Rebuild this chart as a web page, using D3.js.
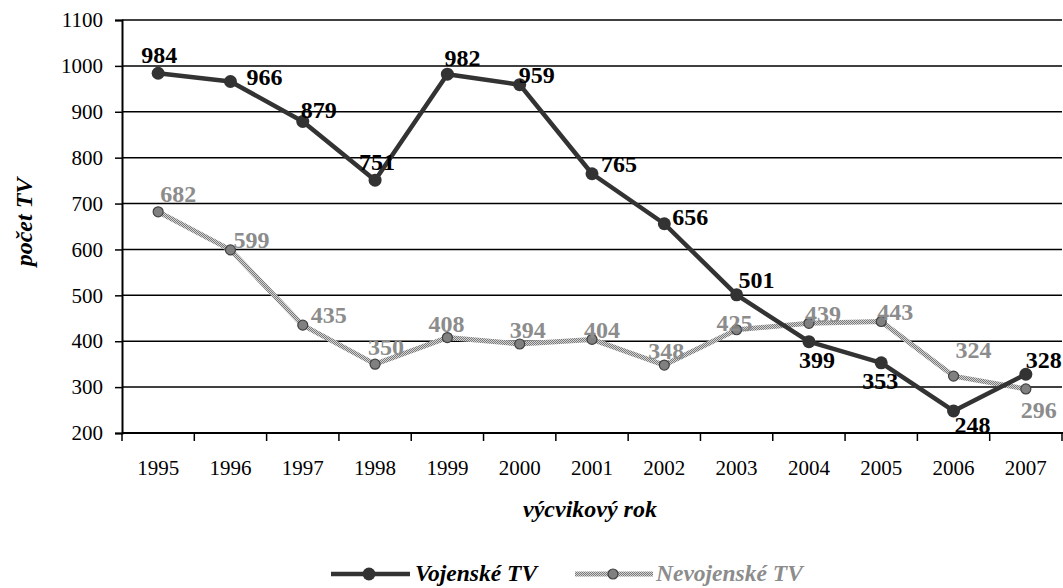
<!DOCTYPE html>
<html>
<head>
<meta charset="utf-8">
<script src="https://cdn.jsdelivr.net/npm/d3@7"></script>
<style>
  html, body { margin: 0; padding: 0; background: #fff; }
  svg { display: block; font-family: "Liberation Serif", "Times New Roman", serif; }
</style>
</head>
<body>
<svg id="chart" width="1063" height="588"></svg>
<script>
// ---- data ----
const years = ["1995","1996","1997","1998","1999","2000","2001","2002","2003","2004","2005","2006","2007"];
const vojenske = [984, 966, 879, 751, 982, 959, 765, 656, 501, 399, 353, 248, 328];
const nevojenske = [682, 599, 435, 350, 408, 394, 404, 348, 425, 439, 443, 324, 296];
const yTicks = [200, 300, 400, 500, 600, 700, 800, 900, 1000, 1100];
const seriesNames = ["Vojenské TV", "Nevojenské TV"];
const yTitle = "počet TV";
const xTitle = "výcvikový rok";

// label placement offsets (layout only)
const vojOffsets = [[-17,-10],[16,4],[-2,-3],[-16,-10],[-3,-8],[-1,-2],[9,-2],[8,1],[2,-7],[-10,26],[-19,26],[1,22],[0,-6]];
const nevOffsets = [[2,-10],[3,-2],[8,-2],[-7,-9],[-19,-6],[-10,-6],[-8,-1],[-16,-6],[-20,1],[-4,-1],[-4,-1],[2,-18],[-5,29]];

const FONT = "Liberation Serif, Times New Roman, serif";
const svg = d3.select("#chart");
const mLeft = 122, mRight = 1062, mTop = 20, mBottom = 433;

const x = d3.scaleBand().domain(years).range([mLeft, mRight]).padding(0);
const y = d3.scaleLinear().domain([200, 1100]).range([mBottom, mTop]);
const cx = d => x(d) + x.bandwidth() / 2;

// pattern for the grey series
const defs = svg.append("defs");
const pat = defs.append("pattern").attr("id", "hatch").attr("patternUnits", "userSpaceOnUse")
  .attr("width", 2).attr("height", 2);
pat.append("rect").attr("width", 2).attr("height", 2).attr("fill", "#d4d4d4");
pat.append("rect").attr("width", 1).attr("height", 1).attr("fill", "#7a7a7a");
pat.append("rect").attr("x", 1).attr("y", 1).attr("width", 1).attr("height", 1).attr("fill", "#7a7a7a");

// gridlines
svg.append("g").selectAll("line").data(yTicks.filter(t => t > 200)).join("line")
  .attr("x1", mLeft).attr("x2", mRight).attr("y1", d => y(d)).attr("y2", d => y(d))
  .attr("stroke", "#000").attr("stroke-width", 1.5);

// y axis
const yAxis = svg.append("g").attr("transform", `translate(${mLeft},0)`)
  .call(d3.axisLeft(y).tickValues(yTicks).tickSize(7).tickPadding(12).tickFormat(d3.format("d")));
yAxis.attr("font-family", FONT);
yAxis.select(".domain").attr("stroke", "#000").attr("stroke-width", 2);
yAxis.selectAll(".tick line").attr("stroke", "#000").attr("stroke-width", 1.5);
yAxis.selectAll("text").attr("font-size", 21).attr("fill", "#000").attr("font-family", FONT);

// x axis
const xAxisG = svg.append("g").attr("transform", `translate(0,${mBottom})`);
xAxisG.append("line").attr("x1", mLeft).attr("x2", mRight + 1).attr("y1", 0).attr("y2", 0)
  .attr("stroke", "#000").attr("stroke-width", 2);
const boundaries = years.map(d => x(d)).concat([mRight]);
xAxisG.selectAll("line.tk").data(boundaries).join("line").attr("class", "tk")
  .attr("x1", d => d).attr("x2", d => d).attr("y1", 0).attr("y2", 8)
  .attr("stroke", "#000").attr("stroke-width", 1.5);
xAxisG.selectAll("text").data(years).join("text")
  .attr("x", d => cx(d)).attr("y", 42).attr("text-anchor", "middle")
  .attr("font-size", 21).attr("fill", "#000").text(d => d);

// lines
const line = d3.line().x((d, i) => cx(years[i])).y(d => y(d));
svg.append("path").datum(nevojenske).attr("d", line).attr("fill", "none")
  .attr("stroke", "url(#hatch)").attr("stroke-width", 5).attr("stroke-linejoin", "round");
svg.append("path").datum(vojenske).attr("d", line).attr("fill", "none")
  .attr("stroke", "#333333").attr("stroke-width", 4.5).attr("stroke-linejoin", "round");

// markers
svg.append("g").selectAll("circle").data(nevojenske).join("circle")
  .attr("cx", (d, i) => cx(years[i])).attr("cy", d => y(d)).attr("r", 5)
  .attr("fill", "#808080").attr("stroke", "#404040").attr("stroke-width", 1.2);
svg.append("g").selectAll("circle").data(vojenske).join("circle")
  .attr("cx", (d, i) => cx(years[i])).attr("cy", d => y(d)).attr("r", 6.5)
  .attr("fill", "#333333");

// labels
svg.append("g").selectAll("text").data(nevojenske).join("text")
  .attr("x", (d, i) => cx(years[i]) + nevOffsets[i][0])
  .attr("y", (d, i) => y(d) + nevOffsets[i][1])
  .attr("font-size", 24).attr("font-weight", "bold").attr("fill", "#8c8c8c").text(d => d);
svg.append("g").selectAll("text").data(vojenske).join("text")
  .attr("x", (d, i) => cx(years[i]) + vojOffsets[i][0])
  .attr("y", (d, i) => y(d) + vojOffsets[i][1])
  .attr("font-size", 24).attr("font-weight", "bold").attr("fill", "#000").text(d => d);

// axis titles
svg.append("text").attr("transform", "translate(32,222) rotate(-90)").attr("text-anchor", "middle")
  .attr("font-size", 24).attr("font-weight", "bold").attr("font-style", "italic").text(yTitle);
svg.append("text").attr("x", 590).attr("y", 517).attr("text-anchor", "middle")
  .attr("font-size", 24).attr("font-weight", "bold").attr("font-style", "italic").text(xTitle);

// legend
const lg = svg.append("g");
lg.append("line").attr("x1", 331).attr("x2", 410).attr("y1", 574).attr("y2", 574)
  .attr("stroke", "#333333").attr("stroke-width", 4.5);
lg.append("circle").attr("cx", 369).attr("cy", 574).attr("r", 6.5).attr("fill", "#333333");
lg.append("text").attr("x", 415).attr("y", 581).attr("font-size", 23.5).attr("font-weight", "bold")
  .attr("font-style", "italic").attr("fill", "#000").text(seriesNames[0]);
lg.append("line").attr("x1", 575).attr("x2", 653).attr("y1", 574).attr("y2", 574)
  .attr("stroke", "url(#hatch)").attr("stroke-width", 5);
lg.append("circle").attr("cx", 613).attr("cy", 574).attr("r", 5)
  .attr("fill", "#808080").attr("stroke", "#404040").attr("stroke-width", 1.2);
lg.append("text").attr("x", 656).attr("y", 581).attr("font-size", 23.5).attr("font-weight", "bold")
  .attr("font-style", "italic").attr("fill", "#8c8c8c").text(seriesNames[1]);
</script>
</body>
</html>
